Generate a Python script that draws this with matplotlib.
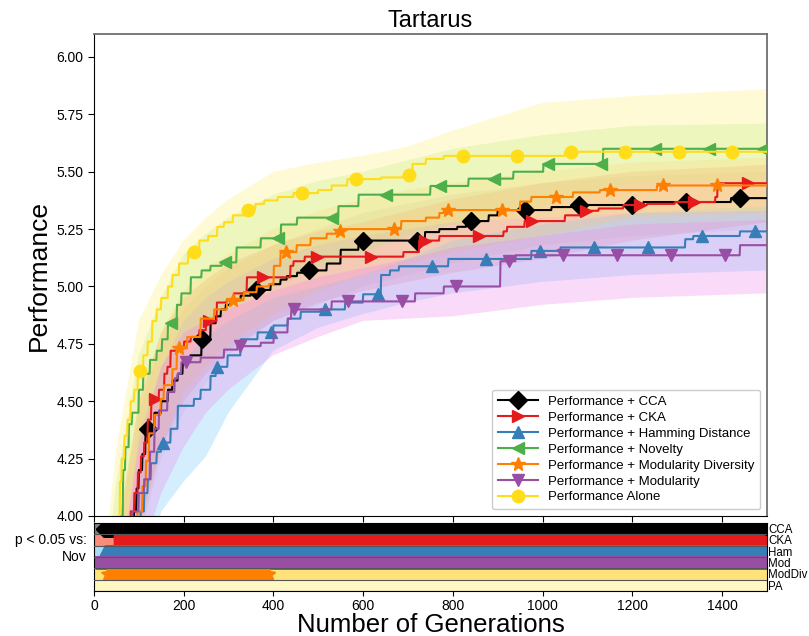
import numpy as np
import matplotlib
matplotlib.use("Agg")
import matplotlib.pyplot as plt

# step breakpoints (generation, mean performance)
cca_gen = [0, 60, 80, 89, 95, 100, 108, 115, 135, 150, 165, 175, 187, 198, 215, 240, 260, 272, 283, 294, 305, 327, 350, 394, 416, 430, 453, 470, 519, 550, 590, 738, 770, 810, 830, 880, 900, 1020, 1070, 1225, 1420]
cca_perf = [3.0, 3.6, 3.85, 4.02, 4.12, 4.2, 4.27, 4.38, 4.45, 4.5, 4.55, 4.59, 4.62, 4.67, 4.70, 4.77, 4.84, 4.87, 4.90, 4.92, 4.94, 4.96, 4.985, 5.01, 5.03, 5.045, 5.06, 5.07, 5.10, 5.16, 5.20, 5.237, 5.25, 5.26, 5.285, 5.31, 5.333, 5.346, 5.355, 5.368, 5.385]

cka_gen = [0, 55, 75, 82, 90, 98, 105, 112, 120, 128, 145, 157, 164, 171, 187, 201, 216, 235, 250, 274, 296, 312, 334, 341, 438, 445, 470, 690, 725, 770, 913, 921, 960, 1050, 1090, 1125, 1180, 1233, 1295, 1385, 1390]
cka_perf = [3.0, 3.7, 3.95, 4.02, 4.1, 4.19, 4.26, 4.32, 4.42, 4.51, 4.55, 4.62, 4.65, 4.72, 4.73, 4.76, 4.78, 4.81, 4.85, 4.93, 4.94, 4.97, 4.975, 5.04, 5.09, 5.11, 5.13, 5.15, 5.20, 5.22, 5.24, 5.26, 5.285, 5.31, 5.33, 5.34, 5.355, 5.36, 5.368, 5.39, 5.45]

ham_gen = [0, 70, 95, 104, 112, 120, 127, 140, 150, 171, 187, 223, 238, 260, 272, 298, 327, 365, 400, 432, 461, 505, 560, 600, 640, 660, 680, 790, 975, 1040, 1318, 1336, 1440]
ham_perf = [3.0, 3.5, 3.9, 4.02, 4.10, 4.16, 4.23, 4.28, 4.32, 4.38, 4.48, 4.51, 4.55, 4.61, 4.65, 4.70, 4.77, 4.80, 4.83, 4.86, 4.89, 4.90, 4.93, 4.966, 5.05, 5.07, 5.088, 5.12, 5.155, 5.17, 5.206, 5.22, 5.24]

nov_gen = [0, 45, 60, 65, 70, 78, 85, 100, 110, 125, 140, 152, 165, 185, 195, 216, 240, 260, 285, 318, 372, 417, 453, 545, 590, 750, 835, 935, 1002, 1135]
nov_perf = [3.0, 3.7, 4.0, 4.2, 4.3, 4.4, 4.45, 4.55, 4.62, 4.68, 4.72, 4.77, 4.84, 4.92, 4.97, 5.04, 5.07, 5.09, 5.105, 5.17, 5.21, 5.27, 5.30, 5.35, 5.40, 5.438, 5.47, 5.50, 5.534, 5.60]

moddiv_gen = [0, 70, 90, 97, 108, 116, 123, 135, 149, 156, 175, 185, 208, 238, 268, 297, 334, 363, 390, 401, 416, 452, 483, 519, 540, 556, 685, 740, 770, 780, 950, 975, 1068, 1128, 1255]
moddiv_perf = [3.0, 3.6, 3.95, 4.02, 4.13, 4.24, 4.36, 4.44, 4.51, 4.57, 4.64, 4.73, 4.78, 4.86, 4.90, 4.94, 4.975, 5.00, 5.01, 5.09, 5.15, 5.18, 5.21, 5.23, 5.24, 5.25, 5.285, 5.30, 5.32, 5.333, 5.37, 5.39, 5.41, 5.42, 5.44]

mod_gen = [0, 60, 80, 86, 100, 112, 125, 135, 145, 164, 180, 187, 195, 238, 290, 320, 372, 401, 432, 440, 530, 716, 780, 906, 940, 1440]
mod_perf = [3.0, 3.6, 3.9, 4.02, 4.1, 4.16, 4.28, 4.38, 4.46, 4.54, 4.60, 4.62, 4.67, 4.69, 4.725, 4.74, 4.755, 4.80, 4.86, 4.90, 4.935, 4.97, 5.00, 5.11, 5.136, 5.18]

pa_gen = [0, 40, 53, 58, 62, 68, 75, 82, 90, 98, 110, 120, 130, 140, 150, 165, 175, 190, 210, 235, 255, 275, 290, 310, 335, 360, 380, 410, 445, 500, 530, 565, 640, 690, 710, 740, 780, 1050]
pa_perf = [3.0, 3.7, 4.0, 4.15, 4.25, 4.35, 4.42, 4.5, 4.55, 4.63, 4.7, 4.76, 4.85, 4.9, 4.95, 5.0, 5.05, 5.1, 5.15, 5.2, 5.22, 5.26, 5.28, 5.31, 5.335, 5.36, 5.375, 5.39, 5.407, 5.42, 5.44, 5.468, 5.475, 5.486, 5.534, 5.556, 5.569, 5.587]

# confidence bands (lower / upper) at a few generations
band_gen = [0, 50, 100, 150, 200, 250, 300, 400, 500, 600, 700, 800, 1000, 1200, 1500]
cca_lo = [2.5, 3.3, 3.9, 4.25, 4.45, 4.58, 4.7, 4.85, 4.92, 5.0, 5.05, 5.1, 5.18, 5.22, 5.25]
cca_hi = [3.2, 3.85, 4.45, 4.75, 4.9, 5.0, 5.08, 5.18, 5.25, 5.32, 5.36, 5.4, 5.45, 5.48, 5.5]
cka_lo = [2.5, 3.3, 3.95, 4.3, 4.5, 4.62, 4.72, 4.85, 4.93, 4.98, 5.02, 5.06, 5.12, 5.2, 5.28]
cka_hi = [3.2, 3.9, 4.5, 4.8, 4.95, 5.03, 5.1, 5.18, 5.24, 5.28, 5.33, 5.38, 5.45, 5.5, 5.53]
ham_lo = [2.4, 3.0, 3.7, 4.02, 4.15, 4.26, 4.45, 4.72, 4.82, 4.88, 4.93, 4.97, 5.02, 5.05, 5.07]
ham_hi = [3.0, 3.6, 4.2, 4.5, 4.68, 4.78, 4.85, 4.95, 5.0, 5.05, 5.12, 5.2, 5.27, 5.32, 5.35]
nov_lo = [2.6, 3.7, 4.3, 4.5, 4.72, 4.82, 4.9, 5.0, 5.08, 5.15, 5.22, 5.27, 5.35, 5.45, 5.47]
nov_hi = [3.3, 4.15, 4.7, 4.95, 5.14, 5.23, 5.3, 5.40, 5.46, 5.50, 5.55, 5.60, 5.66, 5.70, 5.71]
moddiv_lo = [2.5, 3.3, 3.9, 4.3, 4.55, 4.65, 4.75, 4.88, 4.98, 5.05, 5.1, 5.15, 5.22, 5.3, 5.32]
moddiv_hi = [3.2, 3.9, 4.5, 4.8, 4.98, 5.08, 5.14, 5.25, 5.33, 5.38, 5.42, 5.45, 5.5, 5.54, 5.56]
mod_lo = [2.4, 3.1, 3.8, 4.1, 4.3, 4.45, 4.55, 4.7, 4.78, 4.85, 4.86, 4.87, 4.92, 4.95, 4.97]
mod_hi = [3.1, 3.7, 4.3, 4.65, 4.8, 4.85, 4.9, 4.98, 5.04, 5.08, 5.12, 5.17, 5.22, 5.27, 5.29]
pa_lo = [2.6, 3.6, 4.35, 4.65, 4.85, 4.95, 5.02, 5.12, 5.18, 5.22, 5.25, 5.28, 5.30, 5.32, 5.33]
pa_hi = [3.4, 4.3, 4.85, 5.05, 5.2, 5.3, 5.38, 5.50, 5.54, 5.57, 5.61, 5.68, 5.80, 5.83, 5.86]

labels = ["Performance + CCA", "Performance + CKA", "Performance + Hamming Distance",
          "Performance + Novelty", "Performance + Modularity Diversity",
          "Performance + Modularity", "Performance Alone"]
line_colors = ["black", "#e41a1c", "#377eb8", "#4daf4a", "#ff7f00", "#984ea3", "#ffdd1a"]
fill_colors = ["#b8b8b8", "#fb6a6a", "#7ccdfa", "#a8ec7a", "#ffc060", "#ee88ee", "#fff07a"]
fill_alpha = [0.2, 0.25, 0.32, 0.28, 0.22, 0.3, 0.3]
markers = ["D", ">", "^", "<", "*", "v", "o"]
marker_sizes = [9, 9, 9, 9, 10, 9, 9]
mark_start = [120, 137, 154, 171, 189, 206, 103]

# significance strip: Novelty vs each method (p < 0.05)
sig_names = ["CCA", "CKA", "Ham", "Mod", "ModDiv", "PA"]
sig_start = [22, 58, 25, 5, 30, None]
sig_end = [1500, 1500, 1500, 1500, 390, None]
sig_colors = ["black", "#e41a1c", "#377eb8", "#984ea3", "#ff7f00", None]
sig_bg = ["#808080", "#fa8c7c", "#a8dcf5", "#f5aaf0", "#ffe27a", "#fff7c2"]
sig_markers = ["D", ">", "^", "v", "*", None]

plt.rcParams["font.family"] = ["Liberation Sans", "DejaVu Sans"]

gens = np.arange(0, 1501)


def expand(bp_gen, bp_val):
    idx = np.searchsorted(bp_gen, gens, side="right") - 1
    return np.asarray(bp_val)[idx]


means = [expand(cca_gen, cca_perf), expand(cka_gen, cka_perf), expand(ham_gen, ham_perf),
         expand(nov_gen, nov_perf), expand(moddiv_gen, moddiv_perf),
         expand(mod_gen, mod_perf), expand(pa_gen, pa_perf)]
lows = [cca_lo, cka_lo, ham_lo, nov_lo, moddiv_lo, mod_lo, pa_lo]
highs = [cca_hi, cka_hi, ham_hi, nov_hi, moddiv_hi, mod_hi, pa_hi]

fig = plt.figure(figsize=(8.09, 6.36), dpi=100)
ax = fig.add_axes([0.1162, 0.1887, 0.8319, 0.7578])
ax_sig = fig.add_axes([0.1162, 0.0708, 0.8319, 0.1069])

for i in range(len(labels)):
    ax.fill_between(band_gen, lows[i], highs[i], color=fill_colors[i], alpha=fill_alpha[i],
                    linewidth=0, zorder=1)

for i in range(len(labels)):
    ax.plot(gens, means[i], color=line_colors[i], lw=1.5, marker=markers[i],
            markersize=marker_sizes[i], markevery=(mark_start[i], 120),
            label=labels[i], zorder=3)

ax.set_xlim(0, 1500)
ax.set_ylim(4.0, 6.1)
ax.set_yticks(np.arange(4.0, 6.01, 0.25))
ax.set_yticklabels([f"{v:.2f}" for v in np.arange(4.0, 6.01, 0.25)])
ax.set_xticks(np.arange(0, 1500, 200))
ax.tick_params(axis="x", labelbottom=False, length=4)
ax.tick_params(axis="y", labelsize=10, length=4)
ax.set_ylabel("Performance", fontsize=19)
ax.set_title("Tartarus", fontsize=17, pad=5)
for s in ["top", "right"]:
    ax.spines[s].set_color("#707070")
    ax.spines[s].set_linewidth(1.3)
ax.legend(loc="lower right", fontsize=9.5, handlelength=3, labelspacing=0.28,
          borderpad=0.45, framealpha=1, edgecolor="#cccccc")

for r, name in enumerate(sig_names):
    y = len(sig_names) - 1 - r
    ax_sig.axhspan(y - 0.5, y + 0.5, color=sig_bg[r], lw=0, zorder=0)
    if sig_start[r] is not None:
        g = np.arange(sig_start[r], sig_end[r] + 1)
        ax_sig.plot(g, np.full(len(g), y), ls="none", marker=sig_markers[r],
                    color=sig_colors[r], markersize=8 if sig_markers[r] != "*" else 9,
                    zorder=2)
    ax_sig.axhline(y - 0.5, color="#555555", lw=0.8, zorder=3)

ax_sig.set_xlim(0, 1500)
ax_sig.set_ylim(-0.5, len(sig_names) - 0.5)
ax_sig.set_xticks(np.arange(0, 1500, 200))
ax_sig.tick_params(axis="x", labelsize=10, length=3.5, pad=2)
ax_sig.set_yticks(range(len(sig_names) - 1, -1, -1))
ax_sig.set_yticklabels(sig_names)
ax_sig.tick_params(axis="y", left=False, right=False, labelleft=False, labelright=True,
                   length=0, pad=1, labelsize=8.3)
ax_sig.set_xlabel("Number of Generations", fontsize=18.5, labelpad=0)
fig.text(0.1075, 0.151, "p < 0.05 vs:", ha="right", va="center", fontsize=10)
fig.text(0.1075, 0.124, "Nov", ha="right", va="center", fontsize=10)

fig.savefig("out.png", dpi=100)
